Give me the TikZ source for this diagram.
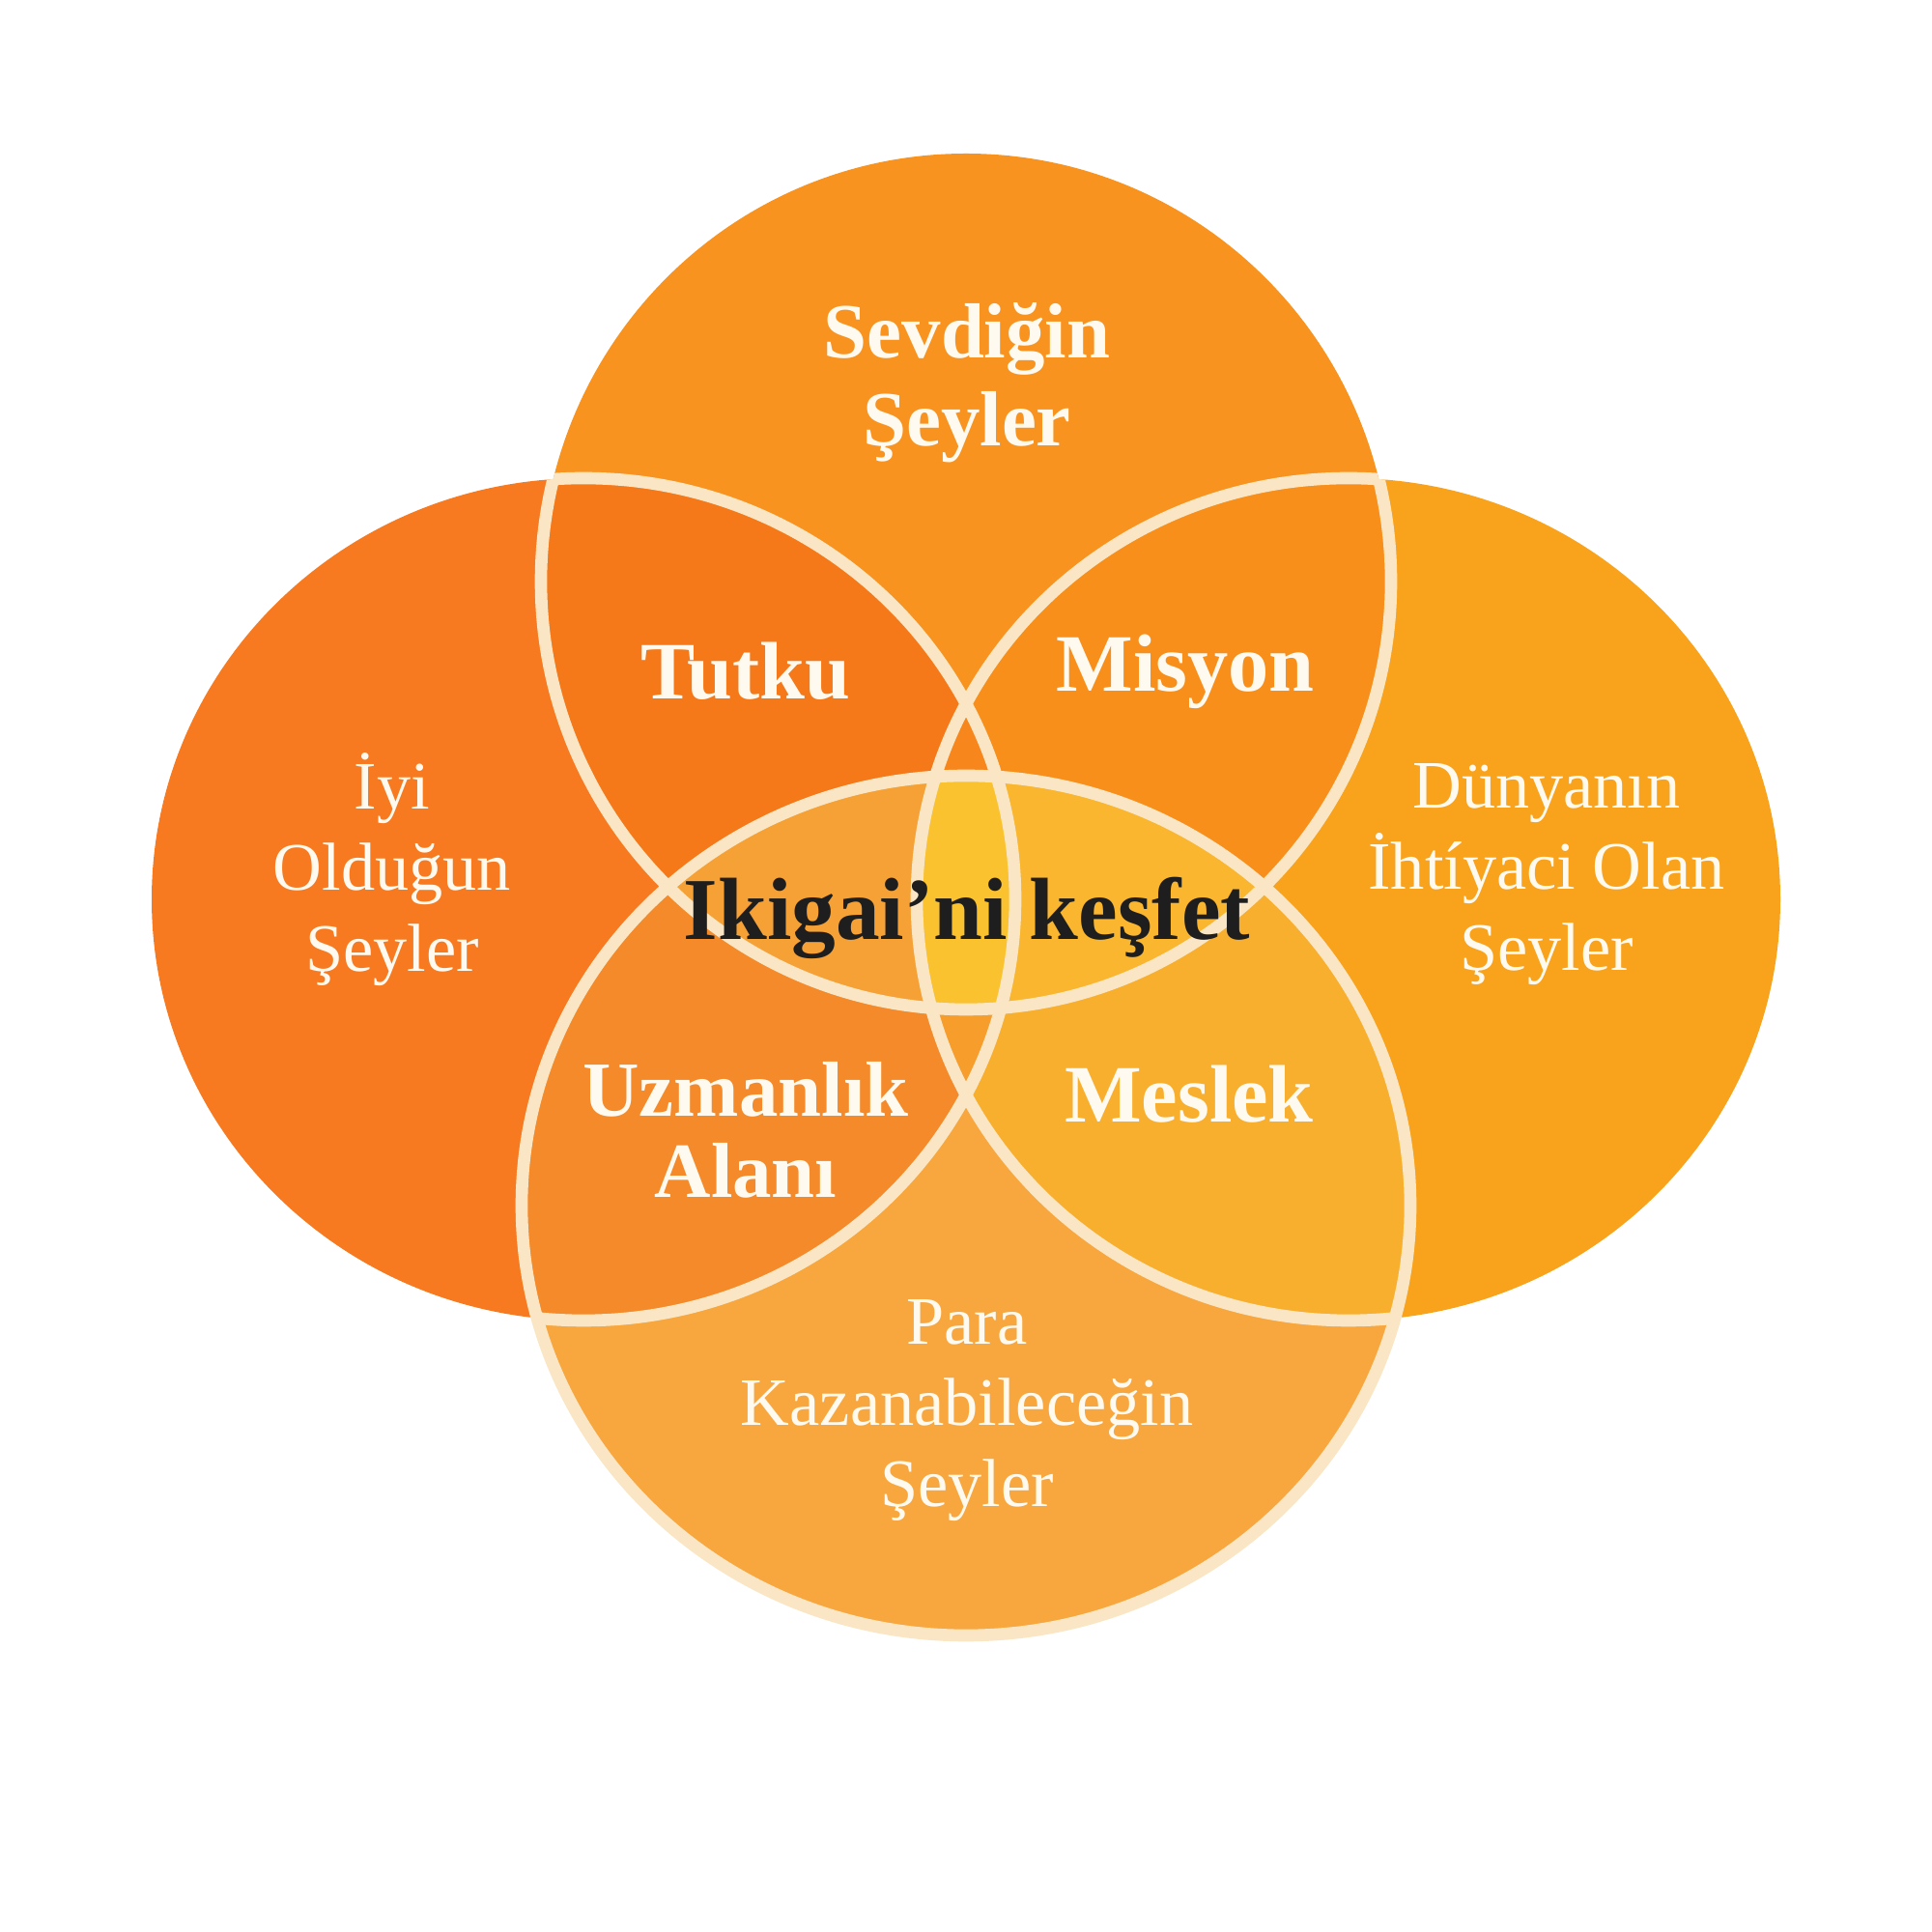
\documentclass[tikz,border=0pt]{standalone}
\usepackage{fontspec}
\setmainfont{Liberation Serif}
\definecolor{leftc}{HTML}{F77A20}
\definecolor{topc}{HTML}{F8931F}
\definecolor{rightc}{HTML}{F9A21B}
\definecolor{bottomc}{HTML}{F8A73E}
\definecolor{tutkuc}{HTML}{F57919}
\definecolor{misyonc}{HTML}{F88F1B}
\definecolor{uzmanc}{HTML}{F48A29}
\definecolor{meslekc}{HTML}{F9AF2E}
\definecolor{lrtc}{HTML}{F7871D}
\definecolor{lrbc}{HTML}{F79D2C}
\definecolor{lensc}{HTML}{F6A136}
\definecolor{lensrc}{HTML}{F9B62E}
\definecolor{centerc}{HTML}{FBC22F}
\definecolor{ringc}{HTML}{FAE6C4}
\definecolor{labelc}{HTML}{FFFAF0}
\definecolor{titlec}{HTML}{1E1E1E}
\newcommand{\ringT}{(10,13.98) ellipse [x radius=4.40, y radius=4.43]}
\newcommand{\ringL}{(6.04,10.69) ellipse [x radius=4.47, y radius=4.36]}
\newcommand{\ringR}{(13.96,10.69) ellipse [x radius=4.47, y radius=4.36]}
\newcommand{\ringB}{(10,7.52) ellipse [x radius=4.60, y radius=4.45]}
\begin{document}
\begin{tikzpicture}[every node/.style={align=center,text=labelc},
  big/.style={font=\bfseries\fontsize{24}{27}\selectfont},
  small/.style={font=\fontsize{20}{24}\selectfont},
  ring/.style={draw=ringc,line width=3.6pt}]
\useasboundingbox (0,0) rectangle (20,20);

\fill[leftc] \ringL;
\fill[rightc] \ringR;
\fill[topc] \ringT;
\fill[bottomc] \ringB;

\begin{scope}\clip \ringL; \fill[tutkuc] \ringT; \end{scope}
\begin{scope}\clip \ringR; \fill[misyonc] \ringT; \end{scope}
\begin{scope}\clip \ringL; \fill[uzmanc] \ringB; \end{scope}
\begin{scope}\clip \ringR; \fill[meslekc] \ringB; \end{scope}
\begin{scope}\clip \ringL; \clip \ringR; \fill[lrtc] \ringT; \fill[lrbc] \ringB; \end{scope}
\begin{scope}\clip \ringT; \clip \ringB; \fill[lensc] \ringT;
  \clip \ringR; \fill[lensrc] \ringT;
  \clip \ringL; \fill[centerc] \ringT;
\end{scope}

\draw[ring] \ringB;
\begin{scope}\clip \ringL \ringR \ringB; \draw[ring] \ringT; \end{scope}
\begin{scope}\clip \ringT \ringR \ringB; \draw[ring] \ringL; \end{scope}
\begin{scope}\clip \ringT \ringL \ringB; \draw[ring] \ringR; \end{scope}

\node[big,font=\bfseries\fontsize{23}{26}\selectfont] (sevdigin) at (10.01,16.04) {Sevdiğin\\Şeyler};
\node[big] (tutku) at (7.72,13.05) {Tutku};
\node[big] (misyon) at (12.27,13.05) {Misyon};
\node[big,font=\bfseries\fontsize{23}{24}\selectfont] (uzmanlik) at (7.72,8.30) {Uzmanlık\\Alanı};
\node[big] (meslek) at (12.31,8.67) {Meslek};
\node[small] (iyi) at (4.06,11.00) {İyi\\Olduğun\\Şeyler};
\node[small] (dunya) at (16.01,10.95) {Dünyanın\\İhtíyaci Olan\\Şeyler};
\node[small] (para) at (10.01,5.40) {Para\\Kazanabileceğin\\Şeyler};
\node[font=\bfseries\fontsize{26}{28}\selectfont,text=titlec] (ikigai) at (10.01,10.50) {Ikigai’ni keşfet};
\end{tikzpicture}
\end{document}
